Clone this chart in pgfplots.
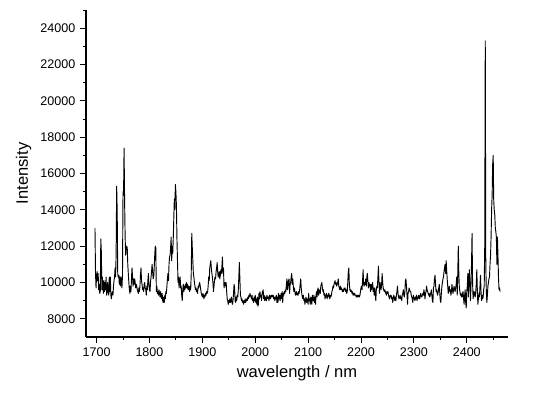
\documentclass[border=0pt]{standalone}
\usepackage{pgfplots}
\pgfplotsset{compat=1.18}
\usepackage{fontspec}
\setmainfont{Liberation Sans}
\begin{document}
\begin{tikzpicture}
\begin{axis}[
 scale only axis, width=316.5pt, height=245.25pt,
 xmin=1680, xmax=2478, ymin=7000, ymax=25000,
 axis x line*=bottom, axis y line*=left,
 axis line style={line width=0.8pt},
 xtick={1700,1800,...,2400}, minor xtick={1750,1850,...,2450},
 ytick={8000,10000,...,24000}, minor ytick={9000,11000,...,25000},
 tick align=outside,
 major tick length=4.5pt, minor tick length=2.5pt,
 every tick/.style={line width=0.7pt, black},
 scaled ticks=false,
 /pgf/number format/1000 sep={},
 /pgf/number format/assume math mode=true,
 tick label style={font=\fontsize{9.4}{11}\selectfont},
 label style={font=\fontsize{12.4}{14}\selectfont},
 xlabel={wavelength / nm}, ylabel={Intensity},
]
\addplot[black, line width=0.7pt, line join=round] table {
1697 13000
1698 10500
1699 9700
1700 10400
1701 10600
1702 10100
1703 10500
1704 9600
1705 9900
1706 9400
1707 9500
1708 12400
1709 11700
1710 9600
1711 10300
1712 9700
1713 9400
1714 10100
1715 9500
1716 10000
1717 9600
1718 10300
1719 9300
1720 9800
1721 10000
1722 9400
1723 9300
1724 10300
1725 9500
1726 10300
1727 9300
1728 9100
1729 9400
1730 9500
1731 9300
1732 9800
1733 10100
1734 10300
1735 10800
1736 10300
1737 11600
1738 15300
1739 13900
1740 10500
1741 10300
1742 10400
1743 9900
1744 10300
1745 9800
1746 10300
1747 10000
1748 9700
1749 10400
1750 15000
1751 14800
1752 17400
1753 14500
1754 12500
1755 11500
1756 11900
1757 12000
1758 11900
1759 11000
1760 10500
1761 10000
1762 9600
1763 9400
1764 9800
1765 9500
1766 10200
1767 10800
1768 10300
1769 9800
1770 10200
1771 9900
1772 10200
1773 10000
1774 9700
1775 9900
1776 9800
1777 9600
1778 9500
1779 9400
1780 9700
1781 9500
1782 9800
1783 10400
1784 10800
1785 10100
1786 9900
1787 9600
1788 9700
1789 9500
1790 9900
1791 10000
1792 9700
1793 9600
1794 9300
1795 9800
1796 9600
1797 10100
1798 10500
1799 9900
1800 9600
1801 9500
1802 10000
1803 10300
1804 10600
1805 11000
1806 10600
1807 10200
1808 10300
1809 10800
1810 11500
1811 12000
1812 11900
1813 9500
1814 9800
1815 9400
1816 9500
1817 9300
1818 9600
1819 9400
1820 9200
1821 9500
1822 9300
1823 9100
1824 9400
1825 9000
1826 8900
1827 9200
1828 8900
1829 9300
1830 9100
1831 9500
1832 9400
1833 9800
1834 10200
1835 10500
1836 10100
1837 11000
1838 11400
1839 11500
1840 11900
1841 12500
1842 11200
1843 12000
1844 11600
1845 12400
1846 13500
1847 14600
1848 14000
1849 15400
1850 15000
1851 14200
1852 12400
1853 11200
1854 10000
1855 10300
1856 9700
1857 10100
1858 10300
1859 9700
1860 9800
1861 9300
1862 9000
1863 9600
1864 9900
1865 9500
1866 9800
1867 9600
1868 9900
1869 9700
1870 10000
1871 9700
1872 9900
1873 9600
1874 9800
1875 9700
1876 9500
1877 9800
1878 9600
1879 10500
1880 12700
1881 11900
1882 11200
1883 10500
1884 10300
1885 10000
1886 9800
1887 9600
1888 9700
1889 9500
1890 9600
1891 9400
1892 9800
1893 9700
1894 9900
1895 10000
1896 9800
1897 9600
1898 9400
1899 9300
1900 9200
1901 9400
1902 9300
1903 9100
1904 9300
1905 9200
1906 9400
1907 9300
1908 9500
1909 9400
1910 9500
1911 9800
1912 10300
1913 10100
1914 10800
1915 11000
1916 11200
1917 10800
1918 10500
1919 10300
1920 10000
1921 9500
1922 9800
1923 10100
1924 10300
1925 10200
1926 10600
1927 10800
1928 11100
1929 10600
1930 10300
1931 10500
1932 10600
1933 10200
1934 10400
1935 10700
1936 10500
1937 10900
1938 11400
1939 10500
1940 10800
1941 9700
1942 9900
1943 10000
1944 9800
1945 10000
1946 9500
1947 9100
1948 9000
1949 8800
1950 9000
1951 8900
1952 9100
1953 8900
1954 9000
1955 9200
1956 8900
1957 8800
1958 9000
1959 9400
1960 9900
1961 9700
1962 9000
1963 8900
1964 9200
1965 9000
1966 9300
1967 9200
1968 9600
1969 10300
1970 11100
1971 10200
1972 9300
1973 9200
1974 9000
1975 9100
1976 8900
1977 9000
1978 8800
1979 9000
1980 8900
1981 9100
1982 8900
1983 9000
1984 9100
1985 9000
1986 9200
1987 9100
1988 9300
1989 9200
1990 9400
1991 9300
1992 9200
1993 9100
1994 9300
1995 9000
1996 9100
1997 8900
1998 9200
1999 9000
2000 9300
2001 8900
2002 9100
2003 8800
2004 9200
2005 8700
2006 8800
2007 9400
2008 9100
2009 9500
2010 9200
2011 9300
2012 9000
2013 9400
2014 9500
2015 9600
2016 9100
2017 9300
2018 9000
2019 9200
2020 9100
2021 9000
2022 9300
2023 9200
2024 9100
2025 9200
2026 9000
2027 9300
2028 9200
2029 9100
2030 9300
2031 9200
2032 9300
2033 9200
2034 9300
2035 9100
2036 9200
2037 9000
2038 9200
2039 9100
2040 9300
2041 8900
2042 9200
2043 8900
2044 9400
2045 9100
2046 9300
2047 9000
2048 9200
2049 9400
2050 9100
2051 9500
2052 8900
2053 9400
2054 9300
2055 9500
2056 9400
2057 9600
2058 9500
2059 9900
2060 10200
2061 9600
2062 9800
2063 10100
2064 10200
2065 9400
2066 9900
2067 10000
2068 10300
2069 10500
2070 9900
2071 10200
2072 9800
2073 9500
2074 9700
2075 9500
2076 9300
2077 9400
2078 9500
2079 9300
2080 9400
2081 9300
2082 9500
2083 9400
2084 9600
2085 9900
2086 10200
2087 9700
2088 9400
2089 9200
2090 9100
2091 9300
2092 9000
2093 9100
2094 8800
2095 9000
2096 9200
2097 8900
2098 9100
2099 9000
2100 8800
2101 9400
2102 9000
2103 9100
2104 8800
2105 9200
2106 9000
2107 8800
2108 9300
2109 9000
2110 9000
2111 9300
2112 8900
2113 9200
2114 8800
2115 9300
2116 9500
2117 9200
2118 9600
2119 9700
2120 9300
2121 9500
2122 9600
2123 9400
2124 9800
2125 9900
2126 10000
2127 9700
2128 9500
2129 9600
2130 9300
2131 9400
2132 9100
2133 9300
2134 9200
2135 9400
2136 9100
2137 9300
2138 9200
2139 9400
2140 9300
2141 9100
2142 9300
2143 9200
2144 9300
2145 9500
2146 9600
2147 9800
2148 9700
2149 9900
2150 10000
2151 10100
2152 9900
2153 10000
2154 9800
2155 9900
2156 10000
2157 10200
2158 9800
2159 9700
2160 9600
2161 9800
2162 9600
2163 9700
2164 9600
2165 9500
2166 9600
2167 9500
2168 9700
2169 9600
2170 9700
2171 9500
2172 9600
2173 9400
2174 9500
2175 10000
2176 10600
2177 10800
2178 9900
2179 9600
2180 9500
2181 9600
2182 9500
2183 9400
2184 9500
2185 9300
2186 9400
2187 9300
2188 9400
2189 9300
2190 9300
2191 9200
2192 9300
2193 9200
2194 9300
2195 9200
2196 9300
2197 9200
2198 9300
2199 9500
2200 9700
2201 9800
2202 9600
2203 10100
2204 10700
2205 9900
2206 9800
2207 10000
2208 9900
2209 10200
2210 9800
2211 10300
2212 10500
2213 10100
2214 9700
2215 10000
2216 9800
2217 9900
2218 9500
2219 9900
2220 9600
2221 9800
2222 10000
2223 9500
2224 9700
2225 9300
2226 9700
2227 9400
2228 9000
2229 9600
2230 9800
2231 9700
2232 10300
2233 10900
2234 10000
2235 9400
2236 10000
2237 9800
2238 9600
2239 9900
2240 10500
2241 10000
2242 9700
2243 9600
2244 9500
2245 9600
2246 9500
2247 9400
2248 9300
2249 9500
2250 9400
2251 9500
2252 9300
2253 9200
2254 9100
2255 9300
2256 9200
2257 9300
2258 9100
2259 9200
2260 8900
2261 9100
2262 9300
2263 9200
2264 9000
2265 9200
2266 9000
2267 9300
2268 9500
2269 9800
2270 9400
2271 9200
2272 9100
2273 9200
2274 9300
2275 9100
2276 9200
2277 9000
2278 9300
2279 9400
2280 9600
2281 9300
2282 9200
2283 9500
2284 10100
2285 10200
2286 9800
2287 9300
2288 8800
2289 9400
2290 9500
2291 9700
2292 9600
2293 9500
2294 9500
2295 9300
2296 9200
2297 9100
2298 8900
2299 9300
2300 9200
2301 9100
2302 9000
2303 9200
2304 9100
2305 9300
2306 9000
2307 9200
2308 9100
2309 9300
2310 9200
2311 9100
2312 9300
2313 9400
2314 9200
2315 9200
2316 9300
2317 9400
2318 9300
2319 9600
2320 9400
2321 9100
2322 9400
2323 9500
2324 9800
2325 9600
2326 9500
2327 9400
2328 9300
2329 9400
2330 9200
2331 9300
2332 9400
2333 9600
2334 9300
2335 9000
2336 8900
2337 9700
2338 9800
2339 10200
2340 10400
2341 9900
2342 9500
2343 9600
2344 9400
2345 9300
2346 9500
2347 9700
2348 9900
2349 9400
2350 9000
2351 8900
2352 9400
2353 9800
2354 10000
2355 10200
2356 10300
2357 10600
2358 10800
2359 11000
2360 10500
2361 11200
2362 10700
2363 10200
2364 9800
2365 9400
2366 9600
2367 9800
2368 9500
2369 9600
2370 9300
2371 9500
2372 9900
2373 9600
2374 9400
2375 9600
2376 9800
2377 9600
2378 9500
2379 9700
2380 9900
2381 10300
2382 9300
2383 10500
2384 12000
2385 10500
2386 9700
2387 9500
2388 9300
2389 9400
2390 9200
2391 9200
2392 9400
2393 9500
2394 9100
2395 8800
2396 9300
2397 9600
2398 8900
2399 8600
2400 9500
2401 9800
2402 10500
2403 9200
2404 10100
2405 10700
2406 9800
2407 9000
2408 9800
2409 11000
2410 12700
2411 10000
2412 9100
2413 9400
2414 9500
2415 9300
2416 9200
2417 9500
2418 9900
2419 10700
2420 9600
2421 8800
2422 9100
2423 9400
2424 9200
2425 9800
2426 10400
2427 9500
2428 9000
2429 9300
2430 9100
2431 9200
2432 9600
2433 9800
2434 12000
2435 23300
2436 11000
2437 9500
2438 8900
2439 9300
2440 9800
2441 10000
2442 10200
2443 10300
2444 11000
2445 11500
2446 12500
2447 14000
2448 14800
2449 16500
2450 17000
2451 14500
2452 14000
2453 13700
2454 13000
2455 12800
2456 12500
2457 11000
2458 12500
2459 11500
2460 10300
2461 9600
2462 9700
2463 9500
};
\end{axis}
\pgfresetboundingbox
\path[use as bounding box] ([xshift=-64.5pt,yshift=-43.5pt]current axis.south west) rectangle ([xshift=26.25pt,yshift=7.5pt]current axis.north east);
\end{tikzpicture}
\end{document}
